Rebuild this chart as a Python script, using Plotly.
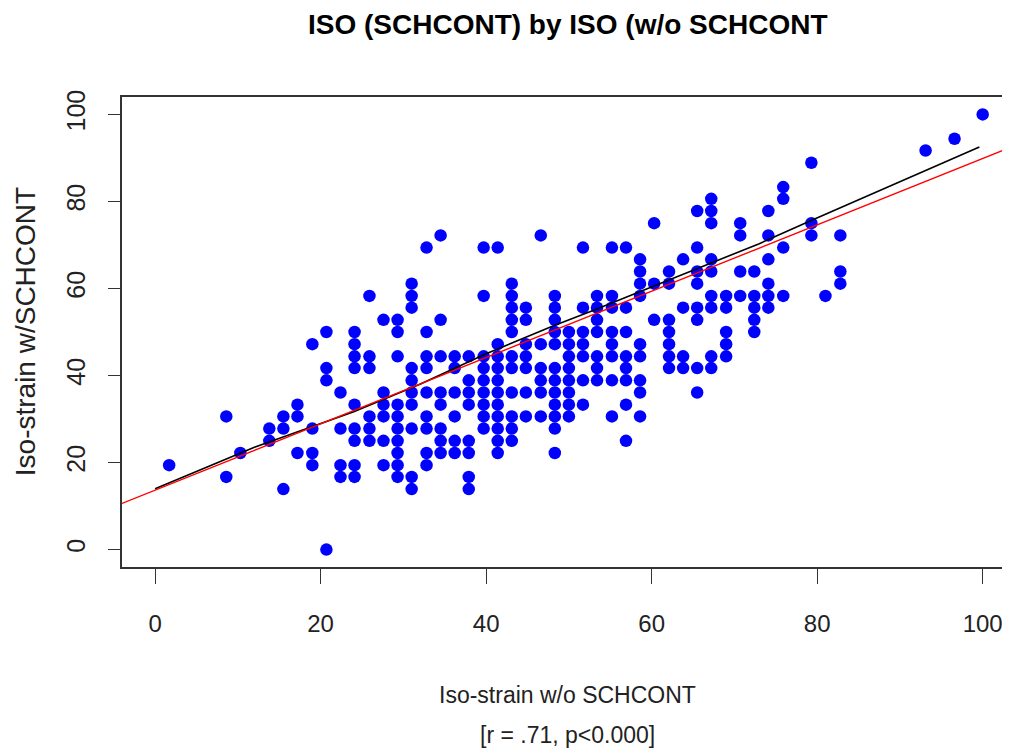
import plotly.graph_objects as go

# colunas de x (iso-strain sem SCHCONT) e valores de y empilhados em cada coluna
col_x = [1.7, 8.6, 10.3, 13.8, 15.5, 17.2, 19.0, 20.7, 22.4, 24.1, 25.9, 27.6,
         29.3, 31.0, 32.8, 34.5, 36.2, 37.9, 39.7, 41.4, 43.1, 44.8, 46.6, 48.3,
         50.0, 51.7, 53.4, 55.2, 56.9, 58.6, 60.3, 62.1, 63.8, 65.5, 67.2, 69.0,
         70.7, 72.4, 74.1, 75.9, 79.3, 81.0, 82.8, 93.1, 96.6, 100.0]

col_y = [
    [19.4],
    [30.6, 16.7],
    [22.2],
    [27.8, 25.0],
    [30.6, 27.8, 13.9],
    [33.3, 30.6, 22.2],
    [47.2, 27.8, 22.2, 19.4],
    [50.0, 41.7, 38.9, 0.0],
    [36.1, 27.8, 19.4, 16.7],
    [50.0, 47.2, 44.4, 41.7, 33.3, 27.8, 25.0, 19.4, 16.7],
    [58.3, 44.4, 41.7, 30.6, 27.8, 25.0],
    [52.8, 36.1, 33.3, 30.6, 25.0, 19.4],
    [52.8, 50.0, 44.4, 33.3, 30.6, 27.8, 25.0, 22.2, 19.4, 16.7],
    [61.1, 58.3, 55.6, 41.7, 38.9, 36.1, 33.3, 27.8, 16.7, 13.9],
    [69.4, 50.0, 44.4, 41.7, 36.1, 30.6, 27.8, 22.2, 19.4],
    [72.2, 52.8, 44.4, 36.1, 33.3, 27.8, 25.0, 22.2],
    [44.4, 41.7, 36.1, 30.6, 25.0, 22.2],
    [44.4, 38.9, 36.1, 33.3, 25.0, 22.2, 16.7, 13.9],
    [69.4, 58.3, 44.4, 41.7, 38.9, 36.1, 33.3, 30.6, 27.8],
    [69.4, 47.2, 44.4, 41.7, 38.9, 36.1, 33.3, 30.6, 27.8, 25.0, 22.2],
    [61.1, 58.3, 55.6, 52.8, 50.0, 44.4, 41.7, 36.1, 30.6, 27.8, 25.0],
    [55.6, 52.8, 47.2, 44.4, 41.7, 36.1, 30.6],
    [72.2, 47.2, 41.7, 38.9, 36.1, 30.6],
    [58.3, 55.6, 52.8, 50.0, 47.2, 41.7, 38.9, 36.1, 33.3, 30.6, 27.8, 22.2],
    [50.0, 47.2, 44.4, 41.7, 38.9, 36.1, 33.3, 30.6],
    [69.4, 55.6, 50.0, 47.2, 44.4, 38.9, 33.3],
    [58.3, 55.6, 52.8, 50.0, 44.4, 41.7, 38.9],
    [69.4, 58.3, 55.6, 50.0, 47.2, 44.4, 38.9, 30.6],
    [69.4, 55.6, 50.0, 44.4, 41.7, 38.9, 33.3, 25.0],
    [66.7, 63.9, 61.1, 58.3, 47.2, 44.4, 38.9, 36.1, 30.6],
    [75.0, 61.1, 52.8],
    [63.9, 61.1, 52.8, 50.0, 47.2, 44.4, 41.7],
    [66.7, 55.6, 44.4, 41.7],
    [77.8, 69.4, 63.9, 61.1, 55.6, 52.8, 41.7, 36.1],
    [80.6, 77.8, 75.0, 66.7, 63.9, 58.3, 55.6, 44.4, 41.7],
    [58.3, 55.6, 50.0, 47.2, 44.4],
    [75.0, 72.2, 63.9, 58.3],
    [63.9, 58.3, 55.6, 52.8, 50.0],
    [77.8, 72.2, 66.7, 61.1, 58.3, 55.6],
    [83.3, 80.6, 69.4, 58.3],
    [88.9, 75.0, 72.2],
    [58.3],
    [72.2, 63.9, 61.1],
    [91.7],
    [94.4],
    [100.0],
]

# reta de regressão (vermelha) e curva suavizada (preta)
reg_intercepto = 13.65
reg_inclinacao = 0.762

suave_x = [0.0, 12.0, 24.0, 32.0, 40.0, 48.0, 53.0, 60.0, 66.0, 73.0, 79.0, 90.0, 99.6]
suave_y = [14.0, 23.5, 31.7, 38.0, 45.0, 51.3, 55.0, 60.3, 64.9, 70.3, 75.4, 84.5, 92.5]

x_ticks = [0, 20, 40, 60, 80, 100]
y_ticks = [0, 20, 40, 60, 80, 100]

x_range = [-4, 103.3]
y_range = [-4, 104]

FONTE = "Liberation Sans, Arial, sans-serif"

# achatar colunas em pontos
px_x, px_y = [], []
for x, ys in zip(col_x, col_y):
    for y in ys:
        px_x.append(x)
        px_y.append(y)

fig = go.Figure()

fig.add_trace(go.Scatter(
    x=px_x, y=px_y, mode="markers",
    marker=dict(color="#0000FF", size=12.5, line=dict(width=0)),
    showlegend=False
))

fig.add_trace(go.Scatter(
    x=suave_x, y=suave_y, mode="lines",
    line=dict(color="black", width=1.6),
    showlegend=False
))

reg_x = [x_range[0], x_range[1]]
reg_y = [reg_intercepto + reg_inclinacao * v for v in reg_x]
fig.add_trace(go.Scatter(
    x=reg_x, y=reg_y, mode="lines",
    line=dict(color="#FF0000", width=1.4),
    showlegend=False
))

# a página tem 8px de margem no body; tamanho e margens já descontam isso
fig.update_layout(
    width=1002,
    height=748,
    margin=dict(l=114, r=0, t=89, b=189),
    plot_bgcolor="white",
    paper_bgcolor="white",
    title=dict(
        text="<b>ISO (SCHCONT) by ISO (w/o SCHCONT</b>",
        x=0.502, xref="paper", xanchor="center",
        y=0.9786, yanchor="middle",
        font=dict(family=FONTE, size=28, color="black")
    ),
)

fig.update_xaxes(
    range=x_range, tickvals=x_ticks, automargin=False,
    showgrid=False, zeroline=False,
    showline=True, mirror=True, linecolor="#333", linewidth=1.5,
    ticks="outside", ticklen=15, tickcolor="#333", tickwidth=1,
    ticklabelstandoff=19,
    tickfont=dict(family=FONTE, size=24, color="#222")
)

fig.update_yaxes(
    range=y_range, tickvals=y_ticks, automargin=False,
    showgrid=False, zeroline=False,
    showline=True, mirror=False, linecolor="#333", linewidth=1.5,
    ticks="outside", ticklen=12, tickcolor="#333", tickwidth=1,
    tickangle=-90, ticklabelstandoff=13,
    tickfont=dict(family=FONTE, size=25, color="#222")
)

# títulos dos eixos
fig.add_annotation(
    text="Iso-strain w/SCHCONT", textangle=-90,
    xref="paper", yref="paper", x=-0.109, y=0.5,
    xanchor="center", yanchor="middle", showarrow=False,
    font=dict(family=FONTE, size=28, color="#222")
)
fig.add_annotation(
    text="Iso-strain w/o SCHCONT",
    xref="paper", yref="paper", x=0.502, y=-0.272,
    xanchor="center", yanchor="middle", showarrow=False,
    font=dict(family=FONTE, size=23, color="#222")
)
fig.add_annotation(
    text="[r = .71, p<0.000]",
    xref="paper", yref="paper", x=0.502, y=-0.357,
    xanchor="center", yanchor="middle", showarrow=False,
    font=dict(family=FONTE, size=23, color="#222")
)

fig.write_html("out.html")
